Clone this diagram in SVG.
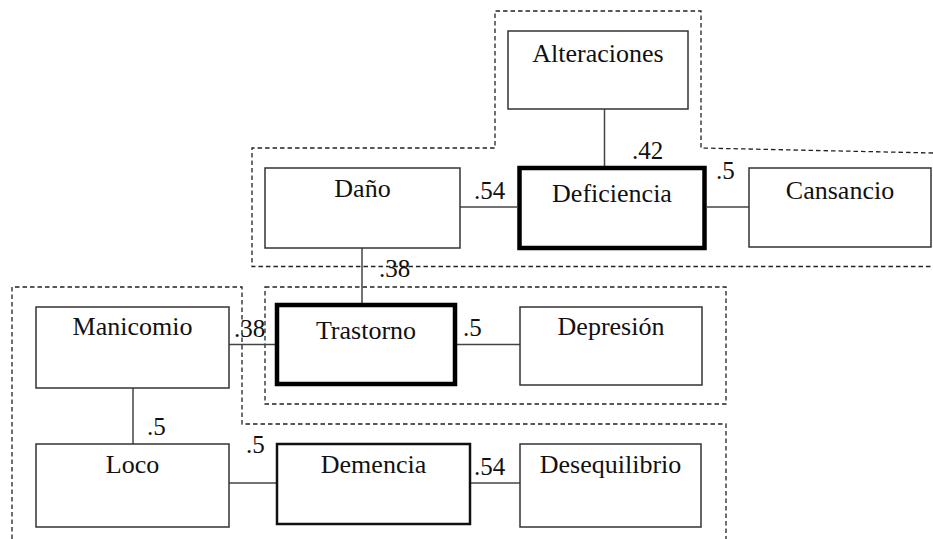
<svg xmlns="http://www.w3.org/2000/svg" width="933" height="539" viewBox="0 0 933 539">
<style>
.box{fill:#fff;stroke:#333;stroke-width:1.5}
.thick{fill:#fff;stroke:#000;stroke-width:4.5}
.mid{fill:#fff;stroke:#111;stroke-width:2.5}
text{font-family:'Liberation Serif','DejaVu Serif',serif;fill:#111}
.lbl{font-size:26px;text-anchor:middle}
.num{font-size:25px}
.dash{fill:none;stroke:#222;stroke-width:1.3;stroke-dasharray:4.5,3}
.conn line{stroke:#444;stroke-width:1.5}
</style>
<rect width="933" height="539" fill="#fff"/>
<g id="groups">
<path class="dash" d="M933,153 L701,148 L701,11 L495,11 L495,148 L252,148 L252,266.5 L933,266.5"/>
<rect class="dash" x="265" y="287" width="461" height="117"/>
<path class="dash" d="M12,539 L12,287 L242,287 L242,424 L726,424 L726,539"/>
</g>
<g id="connectors" class="conn">
<line x1="604.5" y1="109" x2="604.5" y2="166"/>
<line x1="460" y1="207" x2="517" y2="207"/>
<line x1="707" y1="207" x2="749" y2="207"/>
<line x1="362" y1="248" x2="362" y2="303"/>
<line x1="229" y1="344.5" x2="275" y2="344.5"/>
<line x1="457" y1="344.5" x2="520" y2="344.5"/>
<line x1="133" y1="388" x2="133" y2="444"/>
<line x1="229" y1="483" x2="276" y2="483"/>
<line x1="471" y1="483" x2="520" y2="483"/>
</g>
<g id="labels">
<text class="num" x="632" y="159">.42</text>
<text class="num" x="474" y="199">.54</text>
<text class="num" x="716" y="179">.5</text>
<text class="num" x="379" y="277">.38</text>
<text class="num" x="234" y="337">.38</text>
<text class="num" x="463" y="336">.5</text>
<text class="num" x="147" y="435">.5</text>
<text class="num" x="246" y="453">.5</text>
<text class="num" x="474" y="475">.54</text>
</g>
<g id="alteraciones"><rect class="box" x="508" y="31" width="180" height="78"/><text class="lbl" x="598" y="62">Alteraciones</text></g>
<g id="dano"><rect class="box" x="265" y="168" width="195" height="80"/><text class="lbl" x="362.5" y="197">Daño</text></g>
<g id="deficiencia"><rect class="thick" x="519.5" y="168" width="185" height="80"/><text class="lbl" x="612" y="202">Deficiencia</text></g>
<g id="cansancio"><rect class="box" x="749" y="168" width="182" height="79"/><text class="lbl" x="840" y="199">Cansancio</text></g>
<g id="manicomio"><rect class="box" x="36" y="307" width="193" height="81"/><text class="lbl" x="132.5" y="335">Manicomio</text></g>
<g id="trastorno"><rect class="thick" x="277" y="305" width="178" height="79"/><text class="lbl" x="366" y="339">Trastorno</text></g>
<g id="depresion"><rect class="box" x="520" y="307" width="182" height="78"/><text class="lbl" x="611" y="335">Depresión</text></g>
<g id="loco"><rect class="box" x="36" y="444" width="193" height="83"/><text class="lbl" x="132.5" y="473">Loco</text></g>
<g id="demencia"><rect class="mid" x="277" y="444" width="193" height="80"/><text class="lbl" x="373.5" y="473">Demencia</text></g>
<g id="desequilibrio"><rect class="box" x="520" y="444" width="181" height="83"/><text class="lbl" x="610.5" y="473">Desequilibrio</text></g>
</svg>
